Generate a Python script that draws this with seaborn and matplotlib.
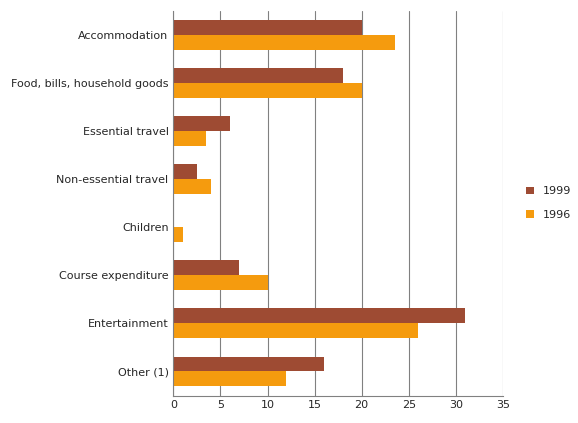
import pandas as pd
import matplotlib
matplotlib.use("Agg")
import matplotlib.pyplot as plt
import seaborn as sns

categories = ['Accommodation', 'Food, bills, household goods', 'Essential travel',
              'Non-essential travel', 'Children', 'Course expenditure',
              'Entertainment', 'Other (1)']
values_1999 = [20, 18, 6, 2.5, 0, 7, 31, 16]
values_1996 = [23.5, 20, 3.5, 4, 1, 10, 26, 12]

df = pd.DataFrame({
    'Category': categories * 2,
    'Value': values_1999 + values_1996,
    'Year': ['1999'] * len(categories) + ['1996'] * len(categories),
})

sns.set_style('white')
plt.rcParams['font.family'] = ['DejaVu Sans']
fig, ax = plt.subplots(figsize=(5.78, 4.23), dpi=100)
sns.barplot(data=df, y='Category', x='Value', hue='Year', order=categories,
            hue_order=['1999', '1996'], palette=['#9E4B33', '#F59B0E'],
            saturation=1, width=0.62, edgecolor='none', ax=ax)

ax.set_xlim(0, 35)
ax.set_xticks(range(0, 36, 5))
ax.xaxis.grid(True, color='#808080', linewidth=0.8)
ax.set_axisbelow(True)
ax.set_xlabel('')
ax.set_ylabel('')
ax.tick_params(labelsize=8, length=0)
for s in ['top', 'right']:
    ax.spines[s].set_visible(False)
ax.spines['left'].set_color('#808080')
ax.spines['bottom'].set_color('#808080')
ax.legend(loc='center left', bbox_to_anchor=(1.04, 0.5), frameon=False, fontsize=8,
          handlelength=0.7, handleheight=0.7, labelspacing=1.2)
fig.subplots_adjust(left=0.30, right=0.87, top=0.975, bottom=0.065)
fig.savefig('out.png')
